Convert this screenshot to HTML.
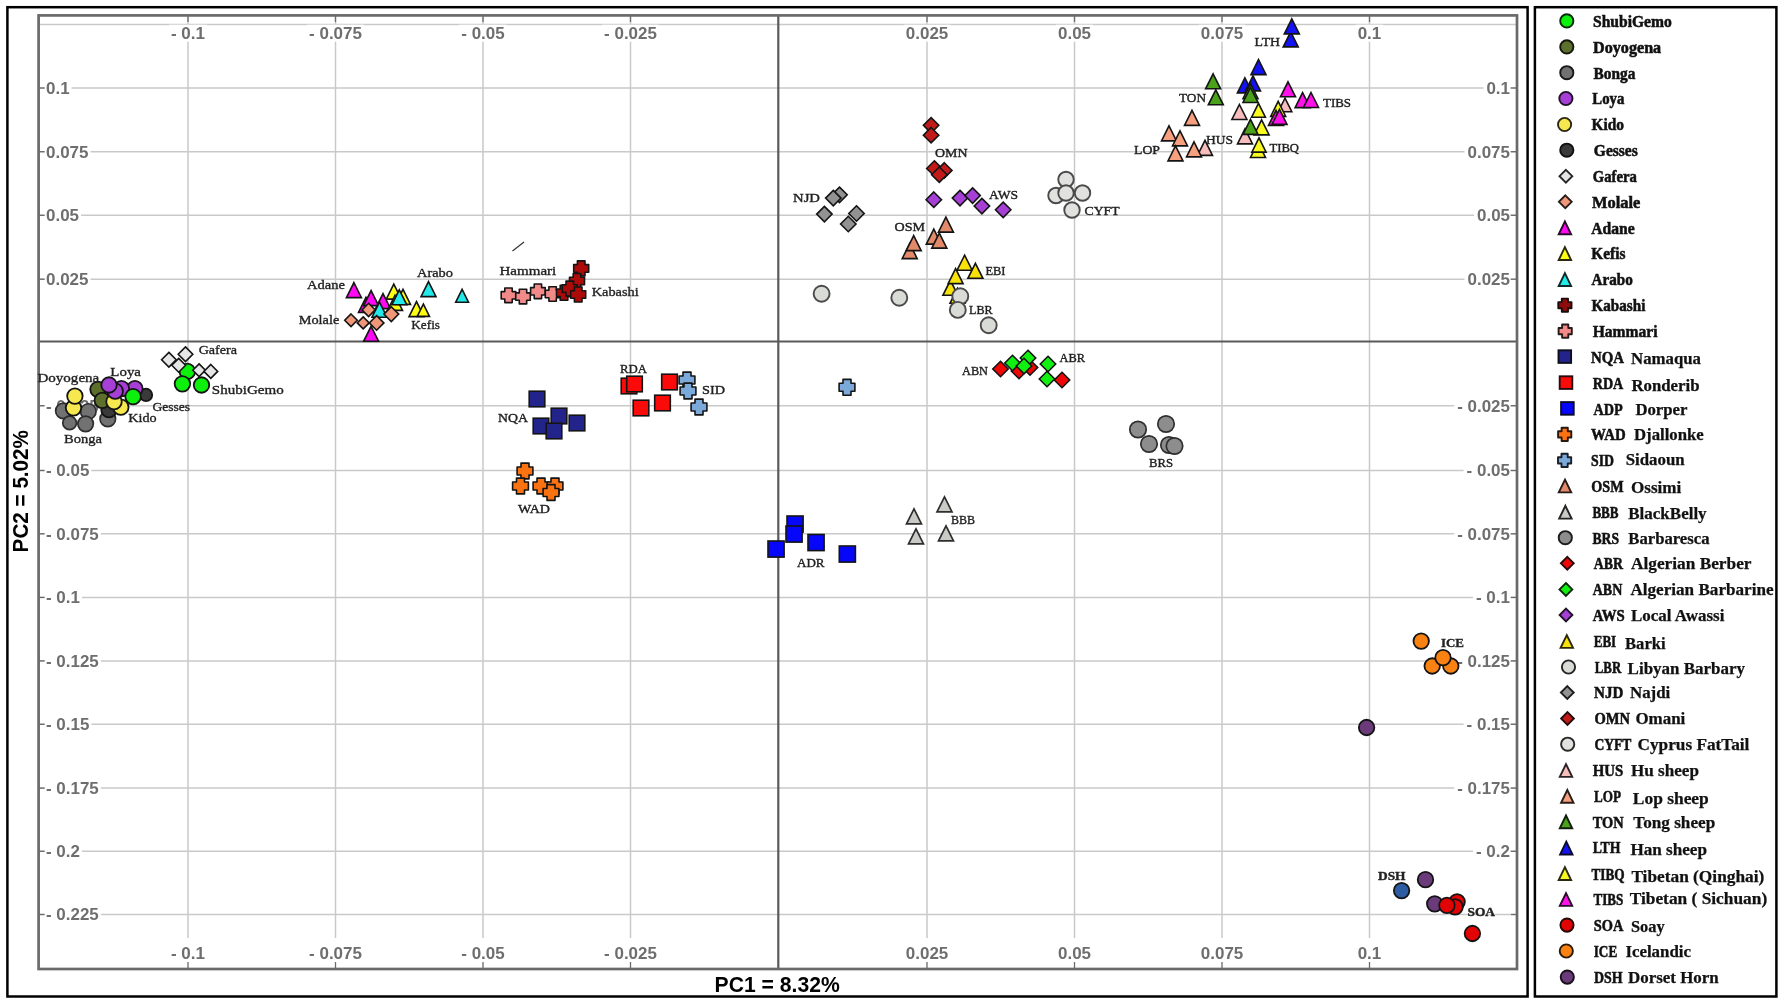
<!DOCTYPE html>
<html lang="en"><head><meta charset="utf-8"><title>PCA of sheep populations</title>
<style>html,body{margin:0;padding:0;background:#fff}body{width:1784px;height:1004px;overflow:hidden}svg{display:block}</style></head><body>
<svg width="1784" height="1004" viewBox="0 0 1784 1004">
<rect width="1784" height="1004" fill="#fff"/>
<defs><filter id="soft" x="0" y="0" width="100%" height="100%" filterUnits="userSpaceOnUse" color-interpolation-filters="sRGB"><feGaussianBlur stdDeviation="0.42"/></filter></defs>
<g filter="url(#soft)">
<rect width="1784" height="1004" fill="#fff"/>
<rect x="7.4" y="7.2" width="1520.2" height="989.3" fill="none" stroke="#000" stroke-width="2.5"/>
<rect x="1534.9" y="7.2" width="241.5" height="989.3" fill="none" stroke="#000" stroke-width="2.5"/>
<g stroke="#c9c9c9" stroke-width="1.5" fill="none">
<path d="M188 15.4V938"/>
<path d="M335.5 15.4V938"/>
<path d="M483 15.4V938"/>
<path d="M630.5 15.4V938"/>
<path d="M927 15.4V938"/>
<path d="M1074.5 15.4V938"/>
<path d="M1222 15.4V938"/>
<path d="M1369.5 15.4V938"/>
<path d="M38.6 24.4H1517.0"/>
<path d="M38.6 88.0H1517.0"/>
<path d="M38.6 151.7H1517.0"/>
<path d="M38.6 215.3H1517.0"/>
<path d="M38.6 279.2H1517.0"/>
<path d="M38.6 405.7H1517.0"/>
<path d="M38.6 470.5H1517.0"/>
<path d="M38.6 533.8H1517.0"/>
<path d="M38.6 597.4H1517.0"/>
<path d="M38.6 660.9H1517.0"/>
<path d="M38.6 724.3H1517.0"/>
<path d="M38.6 788.1H1517.0"/>
<path d="M38.6 851.3H1517.0"/>
<path d="M38.6 914.5H1517.0"/>
</g>
<g stroke="#6a6a6a" stroke-width="1.3" fill="none">
<path d="M188 15.4V22"/><path d="M188 962V969.0"/>
<path d="M335.5 15.4V22"/><path d="M335.5 962V969.0"/>
<path d="M483 15.4V22"/><path d="M483 962V969.0"/>
<path d="M630.5 15.4V22"/><path d="M630.5 962V969.0"/>
<path d="M927 15.4V22"/><path d="M927 962V969.0"/>
<path d="M1074.5 15.4V22"/><path d="M1074.5 962V969.0"/>
<path d="M1222 15.4V22"/><path d="M1222 962V969.0"/>
<path d="M1369.5 15.4V22"/><path d="M1369.5 962V969.0"/>
<path d="M38.6 88.0H44.5"/><path d="M1511 88.0H1517.0"/>
<path d="M38.6 151.7H44.5"/><path d="M1511 151.7H1517.0"/>
<path d="M38.6 215.3H44.5"/><path d="M1511 215.3H1517.0"/>
<path d="M38.6 279.2H44.5"/><path d="M1511 279.2H1517.0"/>
<path d="M38.6 405.7H44.5"/><path d="M1511 405.7H1517.0"/>
<path d="M38.6 470.5H44.5"/><path d="M1511 470.5H1517.0"/>
<path d="M38.6 533.8H44.5"/><path d="M1511 533.8H1517.0"/>
<path d="M38.6 597.4H44.5"/><path d="M1511 597.4H1517.0"/>
<path d="M38.6 660.9H44.5"/><path d="M1511 660.9H1517.0"/>
<path d="M38.6 724.3H44.5"/><path d="M1511 724.3H1517.0"/>
<path d="M38.6 788.1H44.5"/><path d="M1511 788.1H1517.0"/>
<path d="M38.6 851.3H44.5"/><path d="M1511 851.3H1517.0"/>
<path d="M38.6 914.5H44.5"/><path d="M1511 914.5H1517.0"/>
</g>
<path d="M778.3 15.4V969.0M38.6 341.5H1517.0" stroke="#5a5a5a" stroke-width="2.2" fill="none"/>
<rect x="38.6" y="15.4" width="1478.4" height="953.6" fill="none" stroke="#6a6a6a" stroke-width="2.7"/>
<g>
<rect x="169.0" y="24.7" width="38.0" height="17" fill="#fff"/>
<text x="171.0" y="39.1" font-family='"Liberation Sans", sans-serif' font-size="16.4" font-weight="bold" fill="#6e6e6e" textLength="34.0" lengthAdjust="spacingAndGlyphs" >- 0.1</text>
<rect x="169.0" y="944.7" width="38.0" height="17" fill="#fff"/>
<text x="171.0" y="959.1" font-family='"Liberation Sans", sans-serif' font-size="16.4" font-weight="bold" fill="#6e6e6e" textLength="34.0" lengthAdjust="spacingAndGlyphs" >- 0.1</text>
<rect x="307.1" y="24.7" width="56.8" height="17" fill="#fff"/>
<text x="309.1" y="39.1" font-family='"Liberation Sans", sans-serif' font-size="16.4" font-weight="bold" fill="#6e6e6e" textLength="52.8" lengthAdjust="spacingAndGlyphs" >- 0.075</text>
<rect x="307.1" y="944.7" width="56.8" height="17" fill="#fff"/>
<text x="309.1" y="959.1" font-family='"Liberation Sans", sans-serif' font-size="16.4" font-weight="bold" fill="#6e6e6e" textLength="52.8" lengthAdjust="spacingAndGlyphs" >- 0.075</text>
<rect x="459.3" y="24.7" width="47.4" height="17" fill="#fff"/>
<text x="461.3" y="39.1" font-family='"Liberation Sans", sans-serif' font-size="16.4" font-weight="bold" fill="#6e6e6e" textLength="43.4" lengthAdjust="spacingAndGlyphs" >- 0.05</text>
<rect x="459.3" y="944.7" width="47.4" height="17" fill="#fff"/>
<text x="461.3" y="959.1" font-family='"Liberation Sans", sans-serif' font-size="16.4" font-weight="bold" fill="#6e6e6e" textLength="43.4" lengthAdjust="spacingAndGlyphs" >- 0.05</text>
<rect x="602.1" y="24.7" width="56.8" height="17" fill="#fff"/>
<text x="604.1" y="39.1" font-family='"Liberation Sans", sans-serif' font-size="16.4" font-weight="bold" fill="#6e6e6e" textLength="52.8" lengthAdjust="spacingAndGlyphs" >- 0.025</text>
<rect x="602.1" y="944.7" width="56.8" height="17" fill="#fff"/>
<text x="604.1" y="959.1" font-family='"Liberation Sans", sans-serif' font-size="16.4" font-weight="bold" fill="#6e6e6e" textLength="52.8" lengthAdjust="spacingAndGlyphs" >- 0.025</text>
<rect x="903.8" y="24.7" width="46.5" height="17" fill="#fff"/>
<text x="905.8" y="39.1" font-family='"Liberation Sans", sans-serif' font-size="16.4" font-weight="bold" fill="#6e6e6e" textLength="42.5" lengthAdjust="spacingAndGlyphs" >0.025</text>
<rect x="903.8" y="944.7" width="46.5" height="17" fill="#fff"/>
<text x="905.8" y="959.1" font-family='"Liberation Sans", sans-serif' font-size="16.4" font-weight="bold" fill="#6e6e6e" textLength="42.5" lengthAdjust="spacingAndGlyphs" >0.025</text>
<rect x="1056.0" y="24.7" width="37.0" height="17" fill="#fff"/>
<text x="1058.0" y="39.1" font-family='"Liberation Sans", sans-serif' font-size="16.4" font-weight="bold" fill="#6e6e6e" textLength="33.0" lengthAdjust="spacingAndGlyphs" >0.05</text>
<rect x="1056.0" y="944.7" width="37.0" height="17" fill="#fff"/>
<text x="1058.0" y="959.1" font-family='"Liberation Sans", sans-serif' font-size="16.4" font-weight="bold" fill="#6e6e6e" textLength="33.0" lengthAdjust="spacingAndGlyphs" >0.05</text>
<rect x="1198.8" y="24.7" width="46.5" height="17" fill="#fff"/>
<text x="1200.8" y="39.1" font-family='"Liberation Sans", sans-serif' font-size="16.4" font-weight="bold" fill="#6e6e6e" textLength="42.5" lengthAdjust="spacingAndGlyphs" >0.075</text>
<rect x="1198.8" y="944.7" width="46.5" height="17" fill="#fff"/>
<text x="1200.8" y="959.1" font-family='"Liberation Sans", sans-serif' font-size="16.4" font-weight="bold" fill="#6e6e6e" textLength="42.5" lengthAdjust="spacingAndGlyphs" >0.075</text>
<rect x="1355.7" y="24.7" width="27.6" height="17" fill="#fff"/>
<text x="1357.7" y="39.1" font-family='"Liberation Sans", sans-serif' font-size="16.4" font-weight="bold" fill="#6e6e6e" textLength="23.6" lengthAdjust="spacingAndGlyphs" >0.1</text>
<rect x="1355.7" y="944.7" width="27.6" height="17" fill="#fff"/>
<text x="1357.7" y="959.1" font-family='"Liberation Sans", sans-serif' font-size="16.4" font-weight="bold" fill="#6e6e6e" textLength="23.6" lengthAdjust="spacingAndGlyphs" >0.1</text>
<rect x="45" y="79.5" width="26.6" height="17" fill="#fff"/>
<text x="46.0" y="93.9" font-family='"Liberation Sans", sans-serif' font-size="16.4" font-weight="bold" fill="#6e6e6e" textLength="23.6" lengthAdjust="spacingAndGlyphs" >0.1</text>
<rect x="1483.4" y="79.5" width="26.6" height="17" fill="#fff"/>
<text x="1486.4" y="93.9" font-family='"Liberation Sans", sans-serif' font-size="16.4" font-weight="bold" fill="#6e6e6e" textLength="23.6" lengthAdjust="spacingAndGlyphs" >0.1</text>
<rect x="45" y="143.2" width="45.5" height="17" fill="#fff"/>
<text x="46.0" y="157.6" font-family='"Liberation Sans", sans-serif' font-size="16.4" font-weight="bold" fill="#6e6e6e" textLength="42.5" lengthAdjust="spacingAndGlyphs" >0.075</text>
<rect x="1464.5" y="143.2" width="45.5" height="17" fill="#fff"/>
<text x="1467.5" y="157.6" font-family='"Liberation Sans", sans-serif' font-size="16.4" font-weight="bold" fill="#6e6e6e" textLength="42.5" lengthAdjust="spacingAndGlyphs" >0.075</text>
<rect x="45" y="206.8" width="36.0" height="17" fill="#fff"/>
<text x="46.0" y="221.2" font-family='"Liberation Sans", sans-serif' font-size="16.4" font-weight="bold" fill="#6e6e6e" textLength="33.0" lengthAdjust="spacingAndGlyphs" >0.05</text>
<rect x="1474.0" y="206.8" width="36.0" height="17" fill="#fff"/>
<text x="1477.0" y="221.2" font-family='"Liberation Sans", sans-serif' font-size="16.4" font-weight="bold" fill="#6e6e6e" textLength="33.0" lengthAdjust="spacingAndGlyphs" >0.05</text>
<rect x="45" y="270.7" width="45.5" height="17" fill="#fff"/>
<text x="46.0" y="285.1" font-family='"Liberation Sans", sans-serif' font-size="16.4" font-weight="bold" fill="#6e6e6e" textLength="42.5" lengthAdjust="spacingAndGlyphs" >0.025</text>
<rect x="1464.5" y="270.7" width="45.5" height="17" fill="#fff"/>
<text x="1467.5" y="285.1" font-family='"Liberation Sans", sans-serif' font-size="16.4" font-weight="bold" fill="#6e6e6e" textLength="42.5" lengthAdjust="spacingAndGlyphs" >0.025</text>
<rect x="45" y="397.2" width="55.8" height="17" fill="#fff"/>
<text x="46.0" y="411.6" font-family='"Liberation Sans", sans-serif' font-size="16.4" font-weight="bold" fill="#6e6e6e" textLength="52.8" lengthAdjust="spacingAndGlyphs" >- 0.025</text>
<rect x="1454.2" y="397.2" width="55.8" height="17" fill="#fff"/>
<text x="1457.2" y="411.6" font-family='"Liberation Sans", sans-serif' font-size="16.4" font-weight="bold" fill="#6e6e6e" textLength="52.8" lengthAdjust="spacingAndGlyphs" >- 0.025</text>
<rect x="45" y="462.0" width="46.4" height="17" fill="#fff"/>
<text x="46.0" y="476.4" font-family='"Liberation Sans", sans-serif' font-size="16.4" font-weight="bold" fill="#6e6e6e" textLength="43.4" lengthAdjust="spacingAndGlyphs" >- 0.05</text>
<rect x="1463.6" y="462.0" width="46.4" height="17" fill="#fff"/>
<text x="1466.6" y="476.4" font-family='"Liberation Sans", sans-serif' font-size="16.4" font-weight="bold" fill="#6e6e6e" textLength="43.4" lengthAdjust="spacingAndGlyphs" >- 0.05</text>
<rect x="45" y="525.3" width="55.8" height="17" fill="#fff"/>
<text x="46.0" y="539.7" font-family='"Liberation Sans", sans-serif' font-size="16.4" font-weight="bold" fill="#6e6e6e" textLength="52.8" lengthAdjust="spacingAndGlyphs" >- 0.075</text>
<rect x="1454.2" y="525.3" width="55.8" height="17" fill="#fff"/>
<text x="1457.2" y="539.7" font-family='"Liberation Sans", sans-serif' font-size="16.4" font-weight="bold" fill="#6e6e6e" textLength="52.8" lengthAdjust="spacingAndGlyphs" >- 0.075</text>
<rect x="45" y="588.9" width="37.0" height="17" fill="#fff"/>
<text x="46.0" y="603.3" font-family='"Liberation Sans", sans-serif' font-size="16.4" font-weight="bold" fill="#6e6e6e" textLength="34.0" lengthAdjust="spacingAndGlyphs" >- 0.1</text>
<rect x="1473.0" y="588.9" width="37.0" height="17" fill="#fff"/>
<text x="1476.0" y="603.3" font-family='"Liberation Sans", sans-serif' font-size="16.4" font-weight="bold" fill="#6e6e6e" textLength="34.0" lengthAdjust="spacingAndGlyphs" >- 0.1</text>
<rect x="45" y="652.4" width="55.8" height="17" fill="#fff"/>
<text x="46.0" y="666.8" font-family='"Liberation Sans", sans-serif' font-size="16.4" font-weight="bold" fill="#6e6e6e" textLength="52.8" lengthAdjust="spacingAndGlyphs" >- 0.125</text>
<rect x="1454.2" y="652.4" width="55.8" height="17" fill="#fff"/>
<text x="1457.2" y="666.8" font-family='"Liberation Sans", sans-serif' font-size="16.4" font-weight="bold" fill="#6e6e6e" textLength="52.8" lengthAdjust="spacingAndGlyphs" >- 0.125</text>
<rect x="45" y="715.8" width="46.4" height="17" fill="#fff"/>
<text x="46.0" y="730.2" font-family='"Liberation Sans", sans-serif' font-size="16.4" font-weight="bold" fill="#6e6e6e" textLength="43.4" lengthAdjust="spacingAndGlyphs" >- 0.15</text>
<rect x="1463.6" y="715.8" width="46.4" height="17" fill="#fff"/>
<text x="1466.6" y="730.2" font-family='"Liberation Sans", sans-serif' font-size="16.4" font-weight="bold" fill="#6e6e6e" textLength="43.4" lengthAdjust="spacingAndGlyphs" >- 0.15</text>
<rect x="45" y="779.6" width="55.8" height="17" fill="#fff"/>
<text x="46.0" y="794.0" font-family='"Liberation Sans", sans-serif' font-size="16.4" font-weight="bold" fill="#6e6e6e" textLength="52.8" lengthAdjust="spacingAndGlyphs" >- 0.175</text>
<rect x="1454.2" y="779.6" width="55.8" height="17" fill="#fff"/>
<text x="1457.2" y="794.0" font-family='"Liberation Sans", sans-serif' font-size="16.4" font-weight="bold" fill="#6e6e6e" textLength="52.8" lengthAdjust="spacingAndGlyphs" >- 0.175</text>
<rect x="45" y="842.8" width="37.0" height="17" fill="#fff"/>
<text x="46.0" y="857.2" font-family='"Liberation Sans", sans-serif' font-size="16.4" font-weight="bold" fill="#6e6e6e" textLength="34.0" lengthAdjust="spacingAndGlyphs" >- 0.2</text>
<rect x="1473.0" y="842.8" width="37.0" height="17" fill="#fff"/>
<text x="1476.0" y="857.2" font-family='"Liberation Sans", sans-serif' font-size="16.4" font-weight="bold" fill="#6e6e6e" textLength="34.0" lengthAdjust="spacingAndGlyphs" >- 0.2</text>
<rect x="45" y="906.0" width="55.8" height="17" fill="#fff"/>
<text x="46.0" y="920.4" font-family='"Liberation Sans", sans-serif' font-size="16.4" font-weight="bold" fill="#6e6e6e" textLength="52.8" lengthAdjust="spacingAndGlyphs" >- 0.225</text>
</g>
<text x="714.6" y="992.3" font-family='"Liberation Sans", sans-serif' font-size="21.5" font-weight="bold" fill="#000" textLength="125.2" lengthAdjust="spacingAndGlyphs" >PC1 = 8.32%</text>
<text transform="translate(28.2 552.4) rotate(-90)" font-family='"Liberation Sans", sans-serif' font-size="21.5" font-weight="bold" fill="#000" textLength="122.4" lengthAdjust="spacingAndGlyphs">PC2 = 5.02%</text>
<path d="M512.5 251L524 242" stroke="#333" stroke-width="1.2"/>
<g stroke="#141414" stroke-width="1.6" stroke-linejoin="miter">
<circle cx="63.4" cy="410.9" r="7.75" fill="#727272" stroke="#2e2e2e" stroke-width="1.7"/>
<circle cx="88.3" cy="411.5" r="7.75" fill="#727272" stroke="#2e2e2e" stroke-width="1.7"/>
<circle cx="69.6" cy="422.9" r="6.82" fill="#727272" stroke="#2e2e2e" stroke-width="1.7"/>
<circle cx="85.6" cy="423.8" r="7.75" fill="#727272" stroke="#2e2e2e" stroke-width="1.7"/>
<circle cx="107.8" cy="418.9" r="7.75" fill="#727272" stroke="#2e2e2e" stroke-width="1.7"/>
<circle cx="146.0" cy="394.9" r="6.20" fill="#3a3a3a" stroke-width="1.8"/>
<circle cx="109.0" cy="409.7" r="7.75" fill="#3a3a3a" stroke-width="1.8"/>
<circle cx="98.0" cy="389.3" r="7.75" fill="#5d6f2c" stroke-width="1.8"/>
<circle cx="102.3" cy="400.4" r="7.75" fill="#5d6f2c" stroke-width="1.8"/>
<circle cx="73.5" cy="407.8" r="7.75" fill="#f6e84e" stroke-width="1.8"/>
<circle cx="74.9" cy="396.1" r="7.75" fill="#f6e84e" stroke-width="1.8"/>
<circle cx="120.8" cy="407.2" r="7.75" fill="#f6e84e" stroke-width="1.8"/>
<circle cx="114.0" cy="401.7" r="7.75" fill="#f6e84e" stroke-width="1.8"/>
<circle cx="134.9" cy="388.7" r="7.75" fill="#a53fd6" stroke-width="1.8"/>
<circle cx="121.4" cy="388.7" r="7.75" fill="#a53fd6" stroke-width="1.8"/>
<circle cx="115.2" cy="391.2" r="7.75" fill="#a53fd6" stroke-width="1.8"/>
<circle cx="109.0" cy="385.0" r="7.75" fill="#a53fd6" stroke-width="1.8"/>
<circle cx="187.3" cy="371.4" r="7.75" fill="#0cf00c" stroke-width="1.8"/>
<circle cx="182.4" cy="383.8" r="7.75" fill="#0cf00c" stroke-width="1.8"/>
<circle cx="201.5" cy="385.0" r="7.75" fill="#0cf00c" stroke-width="1.8"/>
<circle cx="133.1" cy="396.7" r="7.75" fill="#0cf00c" stroke-width="1.8"/>
<path d="M168.9 352.4L176.2 359.7L168.9 367.0L161.6 359.7Z" fill="#e6e6e6"/>
<path d="M185.5 346.9L192.8 354.2L185.5 361.5L178.2 354.2Z" fill="#e6e6e6"/>
<path d="M178.7 358.4L185.6 365.3L178.7 372.2L171.8 365.3Z" fill="#e6e6e6"/>
<path d="M199.1 363.9L205.4 370.2L199.1 376.5L192.8 370.2Z" fill="#e6e6e6"/>
<path d="M210.8 364.5L217.7 371.4L210.8 378.3L203.9 371.4Z" fill="#e6e6e6"/>
<path d="M353.9 282.6L361.4 297.6L346.4 297.6Z" fill="#ff08f4"/>
<path d="M366.0 297.4L373.5 312.4L358.5 312.4Z" fill="#ff08f4"/>
<path d="M371.1 290.6L378.6 305.6L363.6 305.6Z" fill="#ff08f4"/>
<path d="M383.0 293.6L390.5 308.6L375.5 308.6Z" fill="#ff08f4"/>
<path d="M371.1 326.3L378.6 341.3L363.6 341.3Z" fill="#ff08f4"/>
<path d="M393.8 284.1L401.3 299.1L386.3 299.1Z" fill="#ffff10"/>
<path d="M395.0 295.4L402.5 310.4L387.5 310.4Z" fill="#ffff10"/>
<path d="M403.0 289.4L410.5 304.4L395.5 304.4Z" fill="#ffff10"/>
<path d="M416.5 301.6L424.0 316.6L409.0 316.6Z" fill="#ffff10"/>
<path d="M423.4 304.1L429.5 316.4L417.2 316.4Z" fill="#ffff10"/>
<path d="M428.5 281.6L436.0 296.6L421.0 296.6Z" fill="#22eaea"/>
<path d="M462.1 289.4L468.5 302.2L455.7 302.2Z" fill="#22eaea"/>
<path d="M399.3 289.8L406.8 304.8L391.8 304.8Z" fill="#22eaea"/>
<path d="M379.5 302.2L387.0 317.2L372.0 317.2Z" fill="#22eaea"/>
<path d="M351.0 314.0L357.3 320.3L351.0 326.6L344.7 320.3Z" fill="#f0977a"/>
<path d="M363.2 316.9L369.2 322.9L363.2 328.9L357.2 322.9Z" fill="#f0977a"/>
<path d="M376.6 315.6L383.9 322.9L376.6 330.2L369.3 322.9Z" fill="#f0977a"/>
<path d="M368.6 303.3L375.2 309.9L368.6 316.5L362.0 309.9Z" fill="#f0977a"/>
<path d="M391.3 306.7L398.7 314.1L391.3 321.5L383.9 314.1Z" fill="#f0977a"/>
<path d="M504.8 288.0L512.2 288.0L512.2 291.6L515.8 291.6L515.8 299.0L512.2 299.0L512.2 302.6L504.8 302.6L504.8 299.0L501.2 299.0L501.2 291.6L504.8 291.6Z" fill="#f28a8a" stroke-linejoin="round"/>
<path d="M519.3 289.3L526.7 289.3L526.7 292.9L530.3 292.9L530.3 300.3L526.7 300.3L526.7 303.9L519.3 303.9L519.3 300.3L515.7 300.3L515.7 292.9L519.3 292.9Z" fill="#f28a8a" stroke-linejoin="round"/>
<path d="M534.2 284.0L541.6 284.0L541.6 287.6L545.2 287.6L545.2 295.0L541.6 295.0L541.6 298.6L534.2 298.6L534.2 295.0L530.6 295.0L530.6 287.6L534.2 287.6Z" fill="#f28a8a" stroke-linejoin="round"/>
<path d="M548.9 286.7L556.3 286.7L556.3 290.3L559.9 290.3L559.9 297.7L556.3 297.7L556.3 301.3L548.9 301.3L548.9 297.7L545.3 297.7L545.3 290.3L548.9 290.3Z" fill="#f28a8a" stroke-linejoin="round"/>
<path d="M577.4 260.9L585.0 260.9L585.0 264.6L588.7 264.6L588.7 272.2L585.0 272.2L585.0 275.9L577.4 275.9L577.4 272.2L573.7 272.2L573.7 264.6L577.4 264.6Z" fill="#ad0a0a" stroke-linejoin="round"/>
<path d="M573.2 273.5L580.8 273.5L580.8 277.2L584.5 277.2L584.5 284.8L580.8 284.8L580.8 288.5L573.2 288.5L573.2 284.8L569.5 284.8L569.5 277.2L573.2 277.2Z" fill="#ad0a0a" stroke-linejoin="round"/>
<path d="M560.2 285.3L567.8 285.3L567.8 289.0L571.5 289.0L571.5 296.6L567.8 296.6L567.8 300.3L560.2 300.3L560.2 296.6L556.5 296.6L556.5 289.0L560.2 289.0Z" fill="#ad0a0a" stroke-linejoin="round"/>
<path d="M566.0 281.1L573.6 281.1L573.6 284.8L577.3 284.8L577.3 292.4L573.6 292.4L573.6 296.1L566.0 296.1L566.0 292.4L562.3 292.4L562.3 284.8L566.0 284.8Z" fill="#ad0a0a" stroke-linejoin="round"/>
<path d="M574.4 287.0L582.0 287.0L582.0 290.7L585.7 290.7L585.7 298.3L582.0 298.3L582.0 302.0L574.4 302.0L574.4 298.3L570.7 298.3L570.7 290.7L574.4 290.7Z" fill="#ad0a0a" stroke-linejoin="round"/>
<rect x="529.2" y="391.2" width="15.6" height="15.6" fill="#23238c"/>
<rect x="533.2" y="418.2" width="15.6" height="15.6" fill="#23238c"/>
<rect x="551.2" y="408.2" width="15.6" height="15.6" fill="#23238c"/>
<rect x="546.2" y="423.2" width="15.6" height="15.6" fill="#23238c"/>
<rect x="569.2" y="415.2" width="15.6" height="15.6" fill="#23238c"/>
<rect x="621.2" y="378.2" width="15.6" height="15.6" fill="#fb0a0a"/>
<rect x="626.7" y="376.2" width="15.6" height="15.6" fill="#fb0a0a"/>
<rect x="661.7" y="374.2" width="15.6" height="15.6" fill="#fb0a0a"/>
<rect x="633.2" y="400.2" width="15.6" height="15.6" fill="#fb0a0a"/>
<rect x="654.7" y="395.2" width="15.6" height="15.6" fill="#fb0a0a"/>
<path d="M683.0 372.1L691.0 372.1L691.0 376.0L694.9 376.0L694.9 384.0L691.0 384.0L691.0 387.9L683.0 387.9L683.0 384.0L679.1 384.0L679.1 376.0L683.0 376.0Z" fill="#7aa9da" stroke-linejoin="round"/>
<path d="M684.0 383.1L692.0 383.1L692.0 387.0L695.9 387.0L695.9 395.0L692.0 395.0L692.0 398.9L684.0 398.9L684.0 395.0L680.1 395.0L680.1 387.0L684.0 387.0Z" fill="#7aa9da" stroke-linejoin="round"/>
<path d="M695.0 399.1L703.0 399.1L703.0 403.0L706.9 403.0L706.9 411.0L703.0 411.0L703.0 414.9L695.0 414.9L695.0 411.0L691.1 411.0L691.1 403.0L695.0 403.0Z" fill="#7aa9da" stroke-linejoin="round"/>
<path d="M843.0 379.4L851.0 379.4L851.0 383.3L854.9 383.3L854.9 391.3L851.0 391.3L851.0 395.2L843.0 395.2L843.0 391.3L839.1 391.3L839.1 383.3L843.0 383.3Z" fill="#7aa9da" stroke-linejoin="round"/>
<path d="M521.0 463.1L529.0 463.1L529.0 467.0L532.9 467.0L532.9 475.0L529.0 475.0L529.0 478.9L521.0 478.9L521.0 475.0L517.1 475.0L517.1 467.0L521.0 467.0Z" fill="#fb7212" stroke-linejoin="round"/>
<path d="M516.5 478.1L524.5 478.1L524.5 482.0L528.4 482.0L528.4 490.0L524.5 490.0L524.5 493.9L516.5 493.9L516.5 490.0L512.6 490.0L512.6 482.0L516.5 482.0Z" fill="#fb7212" stroke-linejoin="round"/>
<path d="M537.0 478.1L545.0 478.1L545.0 482.0L548.9 482.0L548.9 490.0L545.0 490.0L545.0 493.9L537.0 493.9L537.0 490.0L533.1 490.0L533.1 482.0L537.0 482.0Z" fill="#fb7212" stroke-linejoin="round"/>
<path d="M551.0 478.1L559.0 478.1L559.0 482.0L562.9 482.0L562.9 490.0L559.0 490.0L559.0 493.9L551.0 493.9L551.0 490.0L547.1 490.0L547.1 482.0L551.0 482.0Z" fill="#fb7212" stroke-linejoin="round"/>
<path d="M547.0 484.6L555.0 484.6L555.0 488.5L558.9 488.5L558.9 496.5L555.0 496.5L555.0 500.4L547.0 500.4L547.0 496.5L543.1 496.5L543.1 488.5L547.0 488.5Z" fill="#fb7212" stroke-linejoin="round"/>
<rect x="787.0" y="516.0" width="16.1" height="16.1" fill="#0606fa"/>
<rect x="786.0" y="526.0" width="16.1" height="16.1" fill="#0606fa"/>
<rect x="768.0" y="541.0" width="16.1" height="16.1" fill="#0606fa"/>
<rect x="808.0" y="534.5" width="16.1" height="16.1" fill="#0606fa"/>
<rect x="839.3" y="546.0" width="16.1" height="16.1" fill="#0606fa"/>
<path d="M931.1 117.6L938.8 125.3L931.1 133.0L923.4 125.3Z" fill="#c21a1a"/>
<path d="M931.1 127.5L938.8 135.2L931.1 142.9L923.4 135.2Z" fill="#c21a1a"/>
<path d="M934.4 160.8L942.1 168.5L934.4 176.2L926.7 168.5Z" fill="#c21a1a"/>
<path d="M944.3 162.7L952.0 170.4L944.3 178.1L936.6 170.4Z" fill="#c21a1a"/>
<path d="M939.3 167.0L947.0 174.7L939.3 182.4L931.6 174.7Z" fill="#c21a1a"/>
<path d="M839.5 187.1L847.2 194.8L839.5 202.5L831.8 194.8Z" fill="#929292"/>
<path d="M833.3 190.4L841.0 198.1L833.3 205.8L825.6 198.1Z" fill="#929292"/>
<path d="M824.4 206.4L832.1 214.1L824.4 221.8L816.7 214.1Z" fill="#929292"/>
<path d="M848.3 216.3L856.0 224.0L848.3 231.7L840.6 224.0Z" fill="#929292"/>
<path d="M856.5 205.8L864.2 213.5L856.5 221.2L848.8 213.5Z" fill="#929292"/>
<path d="M933.8 192.0L941.5 199.7L933.8 207.4L926.1 199.7Z" fill="#a53fd6"/>
<path d="M960.0 190.4L967.7 198.1L960.0 205.8L952.3 198.1Z" fill="#a53fd6"/>
<path d="M972.6 187.9L980.3 195.6L972.6 203.3L964.9 195.6Z" fill="#a53fd6"/>
<path d="M981.9 198.4L989.6 206.1L981.9 213.8L974.2 206.1Z" fill="#a53fd6"/>
<path d="M1003.2 202.1L1010.9 209.8L1003.2 217.5L995.5 209.8Z" fill="#a53fd6"/>
<path d="M909.7 243.6L917.2 258.6L902.2 258.6Z" fill="#e28a69"/>
<path d="M913.7 235.6L921.2 250.6L906.2 250.6Z" fill="#e28a69"/>
<path d="M933.8 229.1L941.3 244.1L926.3 244.1Z" fill="#e28a69"/>
<path d="M945.9 217.1L953.4 232.1L938.4 232.1Z" fill="#e28a69"/>
<path d="M939.3 233.1L946.8 248.1L931.8 248.1Z" fill="#e28a69"/>
<path d="M957.5 288.3L965.0 303.3L950.0 303.3Z" fill="#f8e208"/>
<path d="M950.4 280.3L957.9 295.3L942.9 295.3Z" fill="#f8e208"/>
<path d="M955.6 268.6L963.1 283.6L948.1 283.6Z" fill="#f8e208"/>
<path d="M964.6 255.2L972.1 270.2L957.1 270.2Z" fill="#f8e208"/>
<path d="M975.4 263.3L982.9 278.3L967.9 278.3Z" fill="#f8e208"/>
<circle cx="821.6" cy="293.8" r="7.98" fill="#d9dbd7" stroke="#4a4a4a" stroke-width="1.9"/>
<circle cx="899.3" cy="297.8" r="7.98" fill="#d9dbd7" stroke="#4a4a4a" stroke-width="1.9"/>
<circle cx="960.3" cy="296.3" r="7.98" fill="#d9dbd7" stroke="#4a4a4a" stroke-width="1.9"/>
<circle cx="957.8" cy="309.9" r="7.98" fill="#d9dbd7" stroke="#4a4a4a" stroke-width="1.9"/>
<circle cx="988.7" cy="325.3" r="7.98" fill="#d9dbd7" stroke="#4a4a4a" stroke-width="1.9"/>
<circle cx="1066.0" cy="179.5" r="7.75" fill="#e1e1df" stroke="#4a4a4a" stroke-width="1.9"/>
<circle cx="1056.0" cy="195.5" r="7.75" fill="#e1e1df" stroke="#4a4a4a" stroke-width="1.9"/>
<circle cx="1082.5" cy="193.0" r="7.75" fill="#e1e1df" stroke="#4a4a4a" stroke-width="1.9"/>
<circle cx="1066.0" cy="193.0" r="7.75" fill="#e1e1df" stroke="#4a4a4a" stroke-width="1.9"/>
<circle cx="1072.0" cy="210.0" r="7.75" fill="#e1e1df" stroke="#4a4a4a" stroke-width="1.9"/>
<path d="M1000.5 361.3L1008.2 369.0L1000.5 376.7L992.8 369.0Z" fill="#ef0606"/>
<path d="M1019.0 363.3L1026.7 371.0L1019.0 378.7L1011.3 371.0Z" fill="#ef0606"/>
<path d="M1030.0 359.8L1037.7 367.5L1030.0 375.2L1022.3 367.5Z" fill="#ef0606"/>
<path d="M1062.0 372.3L1069.7 380.0L1062.0 387.7L1054.3 380.0Z" fill="#ef0606"/>
<path d="M1012.5 355.3L1020.2 363.0L1012.5 370.7L1004.8 363.0Z" fill="#12f012"/>
<path d="M1028.0 350.3L1035.7 358.0L1028.0 365.7L1020.3 358.0Z" fill="#12f012"/>
<path d="M1024.0 358.3L1031.7 366.0L1024.0 373.7L1016.3 366.0Z" fill="#12f012"/>
<path d="M1048.0 356.3L1055.7 364.0L1048.0 371.7L1040.3 364.0Z" fill="#12f012"/>
<path d="M1047.0 371.3L1054.7 379.0L1047.0 386.7L1039.3 379.0Z" fill="#12f012"/>
<circle cx="1138.0" cy="429.5" r="8.21" fill="#8d8d8d" stroke="#2e2e2e" stroke-width="1.7"/>
<circle cx="1166.0" cy="424.0" r="8.21" fill="#8d8d8d" stroke="#2e2e2e" stroke-width="1.7"/>
<circle cx="1149.0" cy="444.0" r="8.21" fill="#8d8d8d" stroke="#2e2e2e" stroke-width="1.7"/>
<circle cx="1169.0" cy="445.0" r="8.21" fill="#8d8d8d" stroke="#2e2e2e" stroke-width="1.7"/>
<circle cx="1174.5" cy="446.0" r="8.21" fill="#8d8d8d" stroke="#2e2e2e" stroke-width="1.7"/>
<path d="M944.5 496.9L952.0 511.9L937.0 511.9Z" fill="#c9c9c6" stroke="#2e2e2e" stroke-width="1.7"/>
<path d="M914.0 508.9L921.5 523.9L906.5 523.9Z" fill="#c9c9c6" stroke="#2e2e2e" stroke-width="1.7"/>
<path d="M916.0 528.9L923.5 543.9L908.5 543.9Z" fill="#c9c9c6" stroke="#2e2e2e" stroke-width="1.7"/>
<path d="M946.0 525.9L953.5 540.9L938.5 540.9Z" fill="#c9c9c6" stroke="#2e2e2e" stroke-width="1.7"/>
<path d="M1205.0 140.4L1212.5 155.4L1197.5 155.4Z" fill="#f7bdbd"/>
<path d="M1239.4 104.5L1246.9 119.5L1231.9 119.5Z" fill="#f7bdbd"/>
<path d="M1285.0 98.2L1291.8 111.7L1278.2 111.7Z" fill="#f7bdbd"/>
<path d="M1245.0 128.9L1252.5 143.9L1237.5 143.9Z" fill="#f7bdbd"/>
<path d="M1192.0 110.4L1199.5 125.4L1184.5 125.4Z" fill="#f7a07f"/>
<path d="M1169.0 125.9L1176.5 140.9L1161.5 140.9Z" fill="#f7a07f"/>
<path d="M1180.0 130.9L1187.5 145.9L1172.5 145.9Z" fill="#f7a07f"/>
<path d="M1175.5 145.9L1183.0 160.9L1168.0 160.9Z" fill="#f7a07f"/>
<path d="M1194.0 141.9L1201.5 156.9L1186.5 156.9Z" fill="#f7a07f"/>
<path d="M1290.7 31.9L1298.2 46.9L1283.2 46.9Z" fill="#1212f2"/>
<path d="M1291.8 18.9L1299.3 33.9L1284.3 33.9Z" fill="#1212f2"/>
<path d="M1258.5 59.6L1266.0 74.6L1251.0 74.6Z" fill="#1212f2"/>
<path d="M1244.9 77.9L1252.4 92.9L1237.4 92.9Z" fill="#1212f2"/>
<path d="M1253.0 75.9L1260.5 90.9L1245.5 90.9Z" fill="#1212f2"/>
<path d="M1278.2 101.4L1285.7 116.4L1270.7 116.4Z" fill="#f9f922"/>
<path d="M1258.5 103.4L1265.4 117.2L1251.6 117.2Z" fill="#f9f922"/>
<path d="M1261.6 119.9L1269.1 134.9L1254.1 134.9Z" fill="#f9f922"/>
<path d="M1258.0 142.5L1265.5 157.5L1250.5 157.5Z" fill="#f9f922"/>
<path d="M1259.0 137.9L1266.1 152.1L1251.9 152.1Z" fill="#f9f922"/>
<path d="M1213.1 73.8L1220.6 88.8L1205.6 88.8Z" fill="#4aa21a"/>
<path d="M1215.8 89.8L1223.3 104.8L1208.3 104.8Z" fill="#4aa21a"/>
<path d="M1250.5 83.6L1258.0 98.6L1243.0 98.6Z" fill="#4aa21a"/>
<path d="M1250.5 87.5L1258.0 102.5L1243.0 102.5Z" fill="#4aa21a"/>
<path d="M1250.5 119.4L1258.0 134.4L1243.0 134.4Z" fill="#4aa21a"/>
<path d="M1288.0 81.8L1295.5 96.8L1280.5 96.8Z" fill="#ff12ea"/>
<path d="M1302.6 92.6L1310.1 107.6L1295.1 107.6Z" fill="#ff12ea"/>
<path d="M1311.0 92.5L1318.5 107.5L1303.5 107.5Z" fill="#ff12ea"/>
<path d="M1276.0 110.4L1283.5 125.4L1268.5 125.4Z" fill="#ff12ea"/>
<path d="M1279.5 109.4L1287.0 124.4L1272.0 124.4Z" fill="#ff12ea"/>
<circle cx="1421.2" cy="641.1" r="7.75" fill="#f98212" stroke-width="1.8"/>
<circle cx="1432.2" cy="666.0" r="7.75" fill="#f98212" stroke-width="1.8"/>
<circle cx="1450.8" cy="666.0" r="7.75" fill="#f98212" stroke-width="1.8"/>
<circle cx="1443.0" cy="657.7" r="7.75" fill="#f98212" stroke-width="1.8"/>
<circle cx="1366.6" cy="727.5" r="7.75" fill="#6a3a7a" stroke-width="1.8"/>
<circle cx="1425.5" cy="879.7" r="7.75" fill="#6a3a7a" stroke-width="1.8"/>
<circle cx="1434.7" cy="903.8" r="7.75" fill="#6a3a7a" stroke-width="1.8"/>
<circle cx="1401.6" cy="890.6" r="7.75" fill="#2c5ca2" stroke-width="1.8"/>
<circle cx="1457.1" cy="901.8" r="7.75" fill="#e20404" stroke-width="1.8"/>
<circle cx="1455.1" cy="906.8" r="7.75" fill="#e20404" stroke-width="1.8"/>
<circle cx="1446.9" cy="905.3" r="7.75" fill="#e20404" stroke-width="1.8"/>
<circle cx="1472.4" cy="933.5" r="7.75" fill="#e20404" stroke-width="1.8"/>
</g>
<text x="307.0" y="288.8" font-family='"Liberation Serif", serif' font-size="12.9" font-weight="normal" fill="#222" textLength="38.0" lengthAdjust="spacingAndGlyphs" stroke="#222" stroke-width="0.33">Adane</text>
<text x="417.0" y="276.8" font-family='"Liberation Serif", serif' font-size="12.9" font-weight="normal" fill="#222" textLength="36.0" lengthAdjust="spacingAndGlyphs" stroke="#222" stroke-width="0.33">Arabo</text>
<text x="298.7" y="323.8" font-family='"Liberation Serif", serif' font-size="12.9" font-weight="normal" fill="#222" textLength="40.6" lengthAdjust="spacingAndGlyphs" stroke="#222" stroke-width="0.33">Molale</text>
<text x="411.3" y="328.8" font-family='"Liberation Serif", serif' font-size="12.9" font-weight="normal" fill="#222" textLength="28.7" lengthAdjust="spacingAndGlyphs" stroke="#222" stroke-width="0.33">Kefis</text>
<text x="499.5" y="275.0" font-family='"Liberation Serif", serif' font-size="12.9" font-weight="normal" fill="#222" textLength="56.8" lengthAdjust="spacingAndGlyphs" stroke="#222" stroke-width="0.33">Hammari</text>
<text x="591.7" y="296.0" font-family='"Liberation Serif", serif' font-size="12.9" font-weight="normal" fill="#222" textLength="47.0" lengthAdjust="spacingAndGlyphs" stroke="#222" stroke-width="0.33">Kabashi</text>
<text x="620.0" y="372.7" font-family='"Liberation Serif", serif' font-size="13.5" font-weight="normal" fill="#222" textLength="27.0" lengthAdjust="spacingAndGlyphs" stroke="#222" stroke-width="0.4">RDA</text>
<text x="702.0" y="393.5" font-family='"Liberation Serif", serif' font-size="13.5" font-weight="normal" fill="#222" textLength="23.0" lengthAdjust="spacingAndGlyphs" stroke="#222" stroke-width="0.4">SID</text>
<text x="498.0" y="421.5" font-family='"Liberation Serif", serif' font-size="13.5" font-weight="normal" fill="#222" textLength="30.0" lengthAdjust="spacingAndGlyphs" stroke="#222" stroke-width="0.4">NQA</text>
<text x="518.0" y="513.0" font-family='"Liberation Serif", serif' font-size="13.5" font-weight="normal" fill="#222" textLength="32.0" lengthAdjust="spacingAndGlyphs" stroke="#222" stroke-width="0.4">WAD</text>
<text x="797.0" y="567.0" font-family='"Liberation Serif", serif' font-size="13.5" font-weight="normal" fill="#222" textLength="27.5" lengthAdjust="spacingAndGlyphs" stroke="#222" stroke-width="0.4">ADR</text>
<text x="198.7" y="354.2" font-family='"Liberation Serif", serif' font-size="12.9" font-weight="normal" fill="#222" textLength="38.3" lengthAdjust="spacingAndGlyphs" stroke="#222" stroke-width="0.33">Gafera</text>
<text x="110.3" y="375.5" font-family='"Liberation Serif", serif' font-size="12.9" font-weight="normal" fill="#222" textLength="30.7" lengthAdjust="spacingAndGlyphs" stroke="#222" stroke-width="0.33">Loya</text>
<text x="37.4" y="382.3" font-family='"Liberation Serif", serif' font-size="12.9" font-weight="normal" fill="#222" textLength="61.9" lengthAdjust="spacingAndGlyphs" stroke="#222" stroke-width="0.33">Doyogena</text>
<text x="211.8" y="393.6" font-family='"Liberation Serif", serif' font-size="12.9" font-weight="normal" fill="#222" textLength="71.9" lengthAdjust="spacingAndGlyphs" stroke="#222" stroke-width="0.33">ShubiGemo</text>
<text x="152.4" y="410.9" font-family='"Liberation Serif", serif' font-size="12.9" font-weight="normal" fill="#222" textLength="37.6" lengthAdjust="spacingAndGlyphs" stroke="#222" stroke-width="0.33">Gesses</text>
<text x="128.3" y="421.5" font-family='"Liberation Serif", serif' font-size="12.9" font-weight="normal" fill="#222" textLength="28.3" lengthAdjust="spacingAndGlyphs" stroke="#222" stroke-width="0.33">Kido</text>
<text x="64.0" y="443.3" font-family='"Liberation Serif", serif' font-size="12.9" font-weight="normal" fill="#222" textLength="37.9" lengthAdjust="spacingAndGlyphs" stroke="#222" stroke-width="0.33">Bonga</text>
<text x="935.0" y="157.0" font-family='"Liberation Serif", serif' font-size="13.5" font-weight="normal" fill="#222" textLength="32.5" lengthAdjust="spacingAndGlyphs" stroke="#222" stroke-width="0.4">OMN</text>
<text x="793.0" y="201.5" font-family='"Liberation Serif", serif' font-size="13.5" font-weight="normal" fill="#222" textLength="27.0" lengthAdjust="spacingAndGlyphs" stroke="#222" stroke-width="0.4">NJD</text>
<text x="989.0" y="198.5" font-family='"Liberation Serif", serif' font-size="13.5" font-weight="normal" fill="#222" textLength="29.0" lengthAdjust="spacingAndGlyphs" stroke="#222" stroke-width="0.4">AWS</text>
<text x="894.5" y="230.5" font-family='"Liberation Serif", serif' font-size="13.5" font-weight="normal" fill="#222" textLength="30.5" lengthAdjust="spacingAndGlyphs" stroke="#222" stroke-width="0.4">OSM</text>
<text x="985.5" y="274.5" font-family='"Liberation Serif", serif' font-size="13.5" font-weight="normal" fill="#222" textLength="20.0" lengthAdjust="spacingAndGlyphs" stroke="#222" stroke-width="0.4">EBI</text>
<text x="969.0" y="313.5" font-family='"Liberation Serif", serif' font-size="13.5" font-weight="normal" fill="#222" textLength="23.5" lengthAdjust="spacingAndGlyphs" stroke="#222" stroke-width="0.4">LBR</text>
<text x="1084.5" y="214.5" font-family='"Liberation Serif", serif' font-size="13.5" font-weight="normal" fill="#222" textLength="35.0" lengthAdjust="spacingAndGlyphs" stroke="#222" stroke-width="0.4">CYFT</text>
<text x="1134.0" y="153.5" font-family='"Liberation Serif", serif' font-size="13.5" font-weight="normal" fill="#222" textLength="26.0" lengthAdjust="spacingAndGlyphs" stroke="#222" stroke-width="0.4">LOP</text>
<text x="1254.5" y="45.5" font-family='"Liberation Serif", serif' font-size="13.5" font-weight="normal" fill="#222" textLength="25.5" lengthAdjust="spacingAndGlyphs" stroke="#222" stroke-width="0.4">LTH</text>
<text x="1179.0" y="102.0" font-family='"Liberation Serif", serif' font-size="13.5" font-weight="normal" fill="#222" textLength="27.0" lengthAdjust="spacingAndGlyphs" stroke="#222" stroke-width="0.4">TON</text>
<text x="1323.0" y="107.0" font-family='"Liberation Serif", serif' font-size="13.5" font-weight="normal" fill="#222" textLength="28.0" lengthAdjust="spacingAndGlyphs" stroke="#222" stroke-width="0.4">TIBS</text>
<text x="1206.0" y="143.5" font-family='"Liberation Serif", serif' font-size="13.5" font-weight="normal" fill="#222" textLength="27.0" lengthAdjust="spacingAndGlyphs" stroke="#222" stroke-width="0.4">HUS</text>
<text x="1269.5" y="152.0" font-family='"Liberation Serif", serif' font-size="13.5" font-weight="normal" fill="#222" textLength="29.5" lengthAdjust="spacingAndGlyphs" stroke="#222" stroke-width="0.4">TIBQ</text>
<text x="962.0" y="374.5" font-family='"Liberation Serif", serif' font-size="13.5" font-weight="normal" fill="#222" textLength="26.0" lengthAdjust="spacingAndGlyphs" stroke="#222" stroke-width="0.4">ABN</text>
<text x="1059.5" y="362.0" font-family='"Liberation Serif", serif' font-size="13.5" font-weight="normal" fill="#222" textLength="25.5" lengthAdjust="spacingAndGlyphs" stroke="#222" stroke-width="0.4">ABR</text>
<text x="1149.0" y="467.0" font-family='"Liberation Serif", serif' font-size="13.5" font-weight="normal" fill="#222" textLength="24.0" lengthAdjust="spacingAndGlyphs" stroke="#222" stroke-width="0.4">BRS</text>
<text x="951.0" y="523.5" font-family='"Liberation Serif", serif' font-size="13.5" font-weight="normal" fill="#222" textLength="24.0" lengthAdjust="spacingAndGlyphs" stroke="#222" stroke-width="0.4">BBB</text>
<text x="1441.0" y="647.0" font-family='"Liberation Serif", serif' font-size="13.5" font-weight="bold" fill="#222" textLength="23.0" lengthAdjust="spacingAndGlyphs" stroke="#222" stroke-width="0.4">ICE</text>
<text x="1378.0" y="880.0" font-family='"Liberation Serif", serif' font-size="13.5" font-weight="bold" fill="#222" textLength="27.5" lengthAdjust="spacingAndGlyphs" stroke="#222" stroke-width="0.4">DSH</text>
<text x="1467.5" y="915.5" font-family='"Liberation Serif", serif' font-size="13.5" font-weight="bold" fill="#222" textLength="27.5" lengthAdjust="spacingAndGlyphs" stroke="#222" stroke-width="0.4">SOA</text>
<g stroke-width="1.9">
<circle cx="1566.8" cy="20.9" r="6.60" fill="#0cf00c" stroke="#0b290b"/>
<circle cx="1566.8" cy="46.9" r="6.60" fill="#5d6f2c" stroke="#16180f"/>
<circle cx="1566.8" cy="72.7" r="6.60" fill="#727272" stroke="#181818"/>
<circle cx="1565.9" cy="98.5" r="6.60" fill="#a53fd6" stroke="#1f1225"/>
<circle cx="1564.6" cy="124.5" r="6.60" fill="#f6e84e" stroke="#292814"/>
<circle cx="1566.8" cy="150.2" r="6.60" fill="#3a3a3a" stroke="#111111"/>
<path d="M1565.9 169.8L1572.3 176.2L1565.9 182.6L1559.5 176.2Z" fill="#e6e6e6" stroke="#272727"/>
<path d="M1565.3 195.4L1571.7 201.8L1565.3 208.2L1558.9 201.8Z" fill="#f0977a" stroke="#291d19"/>
<path d="M1564.9 221.5L1571.1 234.3L1558.7 234.3Z" fill="#ff08f4" stroke="#2b0b29"/>
<path d="M1564.9 247.2L1571.1 260.0L1558.7 260.0Z" fill="#ffff10" stroke="#2b2b0c"/>
<path d="M1564.9 273.2L1571.1 286.0L1558.7 286.0Z" fill="#22eaea" stroke="#0e2828"/>
<path d="M1561.8 298.6L1568.0 298.6L1568.0 302.1L1571.5 302.1L1571.5 308.3L1568.0 308.3L1568.0 311.8L1561.8 311.8L1561.8 308.3L1558.3 308.3L1558.3 302.1L1561.8 302.1Z" fill="#8e0c0c" stroke-linejoin="round" stroke="#1c0b0b"/>
<path d="M1562.1 324.5L1568.3 324.5L1568.3 328.0L1571.8 328.0L1571.8 334.2L1568.3 334.2L1568.3 337.7L1562.1 337.7L1562.1 334.2L1558.6 334.2L1558.6 328.0L1562.1 328.0Z" fill="#f28a8a" stroke-linejoin="round" stroke="#291b1b"/>
<rect x="1558.5" y="350.3" width="12.6" height="12.6" fill="#23238c" stroke="#0e0e1c"/>
<rect x="1559.7" y="376.3" width="12.6" height="12.6" fill="#fb0a0a" stroke="#2a0b0b"/>
<rect x="1561.1" y="402.1" width="12.6" height="12.6" fill="#0606fa" stroke="#0a0a2a"/>
<path d="M1561.6 427.8L1567.8 427.8L1567.8 431.3L1571.3 431.3L1571.3 437.5L1567.8 437.5L1567.8 441.0L1561.6 441.0L1561.6 437.5L1558.1 437.5L1558.1 431.3L1561.6 431.3Z" fill="#fb7212" stroke-linejoin="round" stroke="#2a180c"/>
<path d="M1561.5 453.8L1567.7 453.8L1567.7 457.3L1571.2 457.3L1571.2 463.5L1567.7 463.5L1567.7 467.0L1561.5 467.0L1561.5 463.5L1558.0 463.5L1558.0 457.3L1561.5 457.3Z" fill="#7aa9da" stroke-linejoin="round" stroke="#191f26"/>
<path d="M1565.0 479.6L1571.2 492.4L1558.8 492.4Z" fill="#e28a69" stroke="#271b17"/>
<path d="M1565.4 505.8L1571.6 518.6L1559.2 518.6Z" fill="#c9c9c6" stroke="#242423"/>
<circle cx="1565.3" cy="537.7" r="6.60" fill="#8d8d8d" stroke="#1c1c1c"/>
<path d="M1567.3 556.9L1573.7 563.3L1567.3 569.7L1560.9 563.3Z" fill="#ef0606" stroke="#290a0a"/>
<path d="M1565.9 583.0L1572.3 589.4L1565.9 595.8L1559.5 589.4Z" fill="#12f012" stroke="#0c290c"/>
<path d="M1566.0 608.6L1572.4 615.0L1566.0 621.4L1559.6 615.0Z" fill="#a53fd6" stroke="#1f1225"/>
<path d="M1566.8 635.1L1573.0 647.9L1560.6 647.9Z" fill="#f8e208" stroke="#2a270b"/>
<circle cx="1568.5" cy="667.0" r="6.60" fill="#d9dbd7" stroke="#262625"/>
<path d="M1567.3 686.2L1573.7 692.6L1567.3 699.0L1560.9 692.6Z" fill="#929292" stroke="#1c1c1c"/>
<path d="M1567.5 712.1L1573.9 718.5L1567.5 724.9L1561.1 718.5Z" fill="#c21a1a" stroke="#230d0d"/>
<circle cx="1567.7" cy="744.2" r="6.60" fill="#e1e1df" stroke="#272726"/>
<path d="M1566.0 764.1L1572.2 776.9L1559.8 776.9Z" fill="#f7bdbd" stroke="#2a2222"/>
<path d="M1567.3 790.0L1573.5 802.8L1561.1 802.8Z" fill="#f7a07f" stroke="#2a1e1a"/>
<path d="M1566.0 815.5L1572.2 828.3L1559.8 828.3Z" fill="#4aa21a" stroke="#131f0d"/>
<path d="M1566.3 841.7L1572.5 854.5L1560.1 854.5Z" fill="#1212f2" stroke="#0c0c29"/>
<path d="M1564.9 867.2L1571.1 880.0L1558.7 880.0Z" fill="#f9f922" stroke="#2a2a0e"/>
<path d="M1566.0 893.1L1572.2 905.9L1559.8 905.9Z" fill="#ff12ea" stroke="#2b0c28"/>
<circle cx="1567.0" cy="925.1" r="6.60" fill="#e20404" stroke="#270a0a"/>
<circle cx="1566.3" cy="951.0" r="6.60" fill="#f98212" stroke="#2a1a0c"/>
<circle cx="1567.3" cy="977.1" r="6.60" fill="#6a3a7a" stroke="#171119"/>
</g>
<text x="1593.0" y="27.0" font-family='"Liberation Serif", serif' font-size="16.8" font-weight="bold" fill="#111" textLength="78.8" lengthAdjust="spacingAndGlyphs" stroke="#111" stroke-width="0.55">ShubiGemo</text>
<text x="1593.0" y="52.5" font-family='"Liberation Serif", serif' font-size="16.8" font-weight="bold" fill="#111" textLength="68.2" lengthAdjust="spacingAndGlyphs" stroke="#111" stroke-width="0.55">Doyogena</text>
<text x="1593.6" y="78.5" font-family='"Liberation Serif", serif' font-size="16.8" font-weight="bold" fill="#111" textLength="41.8" lengthAdjust="spacingAndGlyphs" stroke="#111" stroke-width="0.55">Bonga</text>
<text x="1592.3" y="104.2" font-family='"Liberation Serif", serif' font-size="16.8" font-weight="bold" fill="#111" textLength="32.0" lengthAdjust="spacingAndGlyphs" stroke="#111" stroke-width="0.55">Loya</text>
<text x="1591.5" y="130.3" font-family='"Liberation Serif", serif' font-size="16.8" font-weight="bold" fill="#111" textLength="32.5" lengthAdjust="spacingAndGlyphs" stroke="#111" stroke-width="0.55">Kido</text>
<text x="1593.8" y="155.8" font-family='"Liberation Serif", serif' font-size="16.8" font-weight="bold" fill="#111" textLength="44.0" lengthAdjust="spacingAndGlyphs" stroke="#111" stroke-width="0.55">Gesses</text>
<text x="1592.7" y="181.9" font-family='"Liberation Serif", serif' font-size="16.8" font-weight="bold" fill="#111" textLength="44.1" lengthAdjust="spacingAndGlyphs" stroke="#111" stroke-width="0.55">Gafera</text>
<text x="1592.0" y="207.5" font-family='"Liberation Serif", serif' font-size="16.8" font-weight="bold" fill="#111" textLength="48.4" lengthAdjust="spacingAndGlyphs" stroke="#111" stroke-width="0.55">Molale</text>
<text x="1591.3" y="233.5" font-family='"Liberation Serif", serif' font-size="16.8" font-weight="bold" fill="#111" textLength="43.4" lengthAdjust="spacingAndGlyphs" stroke="#111" stroke-width="0.55">Adane</text>
<text x="1591.3" y="259.4" font-family='"Liberation Serif", serif' font-size="16.8" font-weight="bold" fill="#111" textLength="34.1" lengthAdjust="spacingAndGlyphs" stroke="#111" stroke-width="0.55">Kefis</text>
<text x="1591.5" y="285.0" font-family='"Liberation Serif", serif' font-size="16.8" font-weight="bold" fill="#111" textLength="41.3" lengthAdjust="spacingAndGlyphs" stroke="#111" stroke-width="0.55">Arabo</text>
<text x="1591.5" y="310.9" font-family='"Liberation Serif", serif' font-size="16.8" font-weight="bold" fill="#111" textLength="53.9" lengthAdjust="spacingAndGlyphs" stroke="#111" stroke-width="0.55">Kabashi</text>
<text x="1592.7" y="336.5" font-family='"Liberation Serif", serif' font-size="16.8" font-weight="bold" fill="#111" textLength="64.8" lengthAdjust="spacingAndGlyphs" stroke="#111" stroke-width="0.55">Hammari</text>
<text x="1591.0" y="362.8" font-family='"Liberation Serif", serif' font-size="16.8" font-weight="bold" fill="#111" textLength="33.0" lengthAdjust="spacingAndGlyphs" stroke="#111" stroke-width="0.55">NQA</text>
<text x="1631.0" y="364.2" font-family='"Liberation Serif", serif' font-size="16.2" font-weight="bold" fill="#111" textLength="70.0" lengthAdjust="spacingAndGlyphs" stroke="#111" stroke-width="0.25">Namaqua</text>
<text x="1592.7" y="389.0" font-family='"Liberation Serif", serif' font-size="16.8" font-weight="bold" fill="#111" textLength="30.6" lengthAdjust="spacingAndGlyphs" stroke="#111" stroke-width="0.55">RDA</text>
<text x="1631.4" y="390.6" font-family='"Liberation Serif", serif' font-size="16.2" font-weight="bold" fill="#111" textLength="68.1" lengthAdjust="spacingAndGlyphs" stroke="#111" stroke-width="0.25">Ronderib</text>
<text x="1593.4" y="414.8" font-family='"Liberation Serif", serif' font-size="16.8" font-weight="bold" fill="#111" textLength="29.2" lengthAdjust="spacingAndGlyphs" stroke="#111" stroke-width="0.55">ADP</text>
<text x="1635.4" y="414.8" font-family='"Liberation Serif", serif' font-size="16.2" font-weight="bold" fill="#111" textLength="52.0" lengthAdjust="spacingAndGlyphs" stroke="#111" stroke-width="0.25">Dorper</text>
<text x="1591.0" y="440.0" font-family='"Liberation Serif", serif' font-size="16.8" font-weight="bold" fill="#111" textLength="34.7" lengthAdjust="spacingAndGlyphs" stroke="#111" stroke-width="0.55">WAD</text>
<text x="1634.0" y="440.4" font-family='"Liberation Serif", serif' font-size="16.2" font-weight="bold" fill="#111" textLength="69.8" lengthAdjust="spacingAndGlyphs" stroke="#111" stroke-width="0.25">Djallonke</text>
<text x="1591.0" y="466.0" font-family='"Liberation Serif", serif' font-size="16.8" font-weight="bold" fill="#111" textLength="23.0" lengthAdjust="spacingAndGlyphs" stroke="#111" stroke-width="0.55">SID</text>
<text x="1625.7" y="464.6" font-family='"Liberation Serif", serif' font-size="16.2" font-weight="bold" fill="#111" textLength="58.9" lengthAdjust="spacingAndGlyphs" stroke="#111" stroke-width="0.25">Sidaoun</text>
<text x="1591.3" y="492.0" font-family='"Liberation Serif", serif' font-size="16.8" font-weight="bold" fill="#111" textLength="32.3" lengthAdjust="spacingAndGlyphs" stroke="#111" stroke-width="0.55">OSM</text>
<text x="1631.0" y="492.8" font-family='"Liberation Serif", serif' font-size="16.2" font-weight="bold" fill="#111" textLength="50.3" lengthAdjust="spacingAndGlyphs" stroke="#111" stroke-width="0.25">Ossimi</text>
<text x="1592.4" y="517.7" font-family='"Liberation Serif", serif' font-size="16.8" font-weight="bold" fill="#111" textLength="26.2" lengthAdjust="spacingAndGlyphs" stroke="#111" stroke-width="0.55">BBB</text>
<text x="1628.3" y="519.1" font-family='"Liberation Serif", serif' font-size="16.2" font-weight="bold" fill="#111" textLength="78.3" lengthAdjust="spacingAndGlyphs" stroke="#111" stroke-width="0.25">BlackBelly</text>
<text x="1592.4" y="543.6" font-family='"Liberation Serif", serif' font-size="16.8" font-weight="bold" fill="#111" textLength="26.6" lengthAdjust="spacingAndGlyphs" stroke="#111" stroke-width="0.55">BRS</text>
<text x="1628.3" y="544.4" font-family='"Liberation Serif", serif' font-size="16.2" font-weight="bold" fill="#111" textLength="81.2" lengthAdjust="spacingAndGlyphs" stroke="#111" stroke-width="0.25">Barbaresca</text>
<text x="1593.7" y="569.0" font-family='"Liberation Serif", serif' font-size="16.8" font-weight="bold" fill="#111" textLength="29.2" lengthAdjust="spacingAndGlyphs" stroke="#111" stroke-width="0.55">ABR</text>
<text x="1631.0" y="569.0" font-family='"Liberation Serif", serif' font-size="16.2" font-weight="bold" fill="#111" textLength="120.5" lengthAdjust="spacingAndGlyphs" stroke="#111" stroke-width="0.25">Algerian Berber</text>
<text x="1592.7" y="595.0" font-family='"Liberation Serif", serif' font-size="16.8" font-weight="bold" fill="#111" textLength="29.6" lengthAdjust="spacingAndGlyphs" stroke="#111" stroke-width="0.55">ABN</text>
<text x="1630.4" y="595.0" font-family='"Liberation Serif", serif' font-size="16.2" font-weight="bold" fill="#111" textLength="143.2" lengthAdjust="spacingAndGlyphs" stroke="#111" stroke-width="0.25">Algerian Barbarine</text>
<text x="1592.7" y="621.4" font-family='"Liberation Serif", serif' font-size="16.8" font-weight="bold" fill="#111" textLength="32.0" lengthAdjust="spacingAndGlyphs" stroke="#111" stroke-width="0.55">AWS</text>
<text x="1631.0" y="621.4" font-family='"Liberation Serif", serif' font-size="16.2" font-weight="bold" fill="#111" textLength="93.4" lengthAdjust="spacingAndGlyphs" stroke="#111" stroke-width="0.25">Local Awassi</text>
<text x="1593.7" y="646.7" font-family='"Liberation Serif", serif' font-size="16.8" font-weight="bold" fill="#111" textLength="22.5" lengthAdjust="spacingAndGlyphs" stroke="#111" stroke-width="0.55">EBI</text>
<text x="1625.0" y="648.9" font-family='"Liberation Serif", serif' font-size="16.2" font-weight="bold" fill="#111" textLength="40.6" lengthAdjust="spacingAndGlyphs" stroke="#111" stroke-width="0.25">Barki</text>
<text x="1594.8" y="672.6" font-family='"Liberation Serif", serif' font-size="16.8" font-weight="bold" fill="#111" textLength="26.4" lengthAdjust="spacingAndGlyphs" stroke="#111" stroke-width="0.55">LBR</text>
<text x="1627.6" y="674.0" font-family='"Liberation Serif", serif' font-size="16.2" font-weight="bold" fill="#111" textLength="117.4" lengthAdjust="spacingAndGlyphs" stroke="#111" stroke-width="0.25">Libyan Barbary</text>
<text x="1594.0" y="698.3" font-family='"Liberation Serif", serif' font-size="16.8" font-weight="bold" fill="#111" textLength="29.3" lengthAdjust="spacingAndGlyphs" stroke="#111" stroke-width="0.55">NJD</text>
<text x="1630.0" y="698.3" font-family='"Liberation Serif", serif' font-size="16.2" font-weight="bold" fill="#111" textLength="40.3" lengthAdjust="spacingAndGlyphs" stroke="#111" stroke-width="0.25">Najdi</text>
<text x="1594.4" y="723.6" font-family='"Liberation Serif", serif' font-size="16.8" font-weight="bold" fill="#111" textLength="35.6" lengthAdjust="spacingAndGlyphs" stroke="#111" stroke-width="0.55">OMN</text>
<text x="1635.4" y="723.6" font-family='"Liberation Serif", serif' font-size="16.2" font-weight="bold" fill="#111" textLength="49.9" lengthAdjust="spacingAndGlyphs" stroke="#111" stroke-width="0.25">Omani</text>
<text x="1594.4" y="750.4" font-family='"Liberation Serif", serif' font-size="16.8" font-weight="bold" fill="#111" textLength="37.0" lengthAdjust="spacingAndGlyphs" stroke="#111" stroke-width="0.55">CYFT</text>
<text x="1637.5" y="750.4" font-family='"Liberation Serif", serif' font-size="16.2" font-weight="bold" fill="#111" textLength="111.9" lengthAdjust="spacingAndGlyphs" stroke="#111" stroke-width="0.25">Cyprus FatTail</text>
<text x="1592.7" y="775.9" font-family='"Liberation Serif", serif' font-size="16.8" font-weight="bold" fill="#111" textLength="30.6" lengthAdjust="spacingAndGlyphs" stroke="#111" stroke-width="0.55">HUS</text>
<text x="1631.0" y="775.6" font-family='"Liberation Serif", serif' font-size="16.2" font-weight="bold" fill="#111" textLength="68.0" lengthAdjust="spacingAndGlyphs" stroke="#111" stroke-width="0.25">Hu sheep</text>
<text x="1594.0" y="801.7" font-family='"Liberation Serif", serif' font-size="16.8" font-weight="bold" fill="#111" textLength="27.0" lengthAdjust="spacingAndGlyphs" stroke="#111" stroke-width="0.55">LOP</text>
<text x="1632.8" y="804.4" font-family='"Liberation Serif", serif' font-size="16.2" font-weight="bold" fill="#111" textLength="76.0" lengthAdjust="spacingAndGlyphs" stroke="#111" stroke-width="0.25">Lop sheep</text>
<text x="1592.7" y="827.6" font-family='"Liberation Serif", serif' font-size="16.8" font-weight="bold" fill="#111" textLength="30.9" lengthAdjust="spacingAndGlyphs" stroke="#111" stroke-width="0.55">TON</text>
<text x="1633.3" y="828.0" font-family='"Liberation Serif", serif' font-size="16.2" font-weight="bold" fill="#111" textLength="81.9" lengthAdjust="spacingAndGlyphs" stroke="#111" stroke-width="0.25">Tong sheep</text>
<text x="1592.7" y="853.2" font-family='"Liberation Serif", serif' font-size="16.8" font-weight="bold" fill="#111" textLength="27.8" lengthAdjust="spacingAndGlyphs" stroke="#111" stroke-width="0.55">LTH</text>
<text x="1630.4" y="855.4" font-family='"Liberation Serif", serif' font-size="16.2" font-weight="bold" fill="#111" textLength="76.6" lengthAdjust="spacingAndGlyphs" stroke="#111" stroke-width="0.25">Han sheep</text>
<text x="1591.5" y="879.5" font-family='"Liberation Serif", serif' font-size="16.8" font-weight="bold" fill="#111" textLength="33.2" lengthAdjust="spacingAndGlyphs" stroke="#111" stroke-width="0.55">TIBQ</text>
<text x="1631.4" y="882.0" font-family='"Liberation Serif", serif' font-size="16.2" font-weight="bold" fill="#111" textLength="132.9" lengthAdjust="spacingAndGlyphs" stroke="#111" stroke-width="0.25">Tibetan (Qinghai)</text>
<text x="1593.4" y="905.2" font-family='"Liberation Serif", serif' font-size="16.8" font-weight="bold" fill="#111" textLength="29.9" lengthAdjust="spacingAndGlyphs" stroke="#111" stroke-width="0.55">TIBS</text>
<text x="1629.7" y="903.7" font-family='"Liberation Serif", serif' font-size="16.2" font-weight="bold" fill="#111" textLength="137.5" lengthAdjust="spacingAndGlyphs" stroke="#111" stroke-width="0.25">Tibetan ( Sichuan)</text>
<text x="1593.7" y="930.8" font-family='"Liberation Serif", serif' font-size="16.8" font-weight="bold" fill="#111" textLength="29.6" lengthAdjust="spacingAndGlyphs" stroke="#111" stroke-width="0.55">SOA</text>
<text x="1630.9" y="931.5" font-family='"Liberation Serif", serif' font-size="16.2" font-weight="bold" fill="#111" textLength="33.7" lengthAdjust="spacingAndGlyphs" stroke="#111" stroke-width="0.25">Soay</text>
<text x="1593.7" y="956.7" font-family='"Liberation Serif", serif' font-size="16.8" font-weight="bold" fill="#111" textLength="23.5" lengthAdjust="spacingAndGlyphs" stroke="#111" stroke-width="0.55">ICE</text>
<text x="1625.4" y="957.2" font-family='"Liberation Serif", serif' font-size="16.2" font-weight="bold" fill="#111" textLength="65.6" lengthAdjust="spacingAndGlyphs" stroke="#111" stroke-width="0.25">Icelandic</text>
<text x="1594.0" y="982.8" font-family='"Liberation Serif", serif' font-size="16.8" font-weight="bold" fill="#111" textLength="28.6" lengthAdjust="spacingAndGlyphs" stroke="#111" stroke-width="0.55">DSH</text>
<text x="1628.0" y="983.2" font-family='"Liberation Serif", serif' font-size="16.2" font-weight="bold" fill="#111" textLength="90.7" lengthAdjust="spacingAndGlyphs" stroke="#111" stroke-width="0.25">Dorset Horn</text>
</g>
</svg></body></html>
